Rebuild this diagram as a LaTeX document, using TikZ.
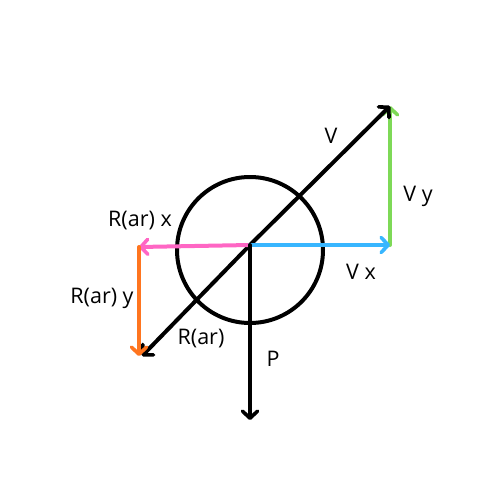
\documentclass[tikz,border=0pt]{standalone}
\usepackage{fontspec}
\setmainfont{Open Sans}
\usetikzlibrary{arrows.meta}
\definecolor{cblue}{HTML}{38B6FF}
\definecolor{cgreen}{HTML}{7ED957}
\definecolor{cpink}{HTML}{FF66C4}
\definecolor{corange}{HTML}{FF751F}
\begin{document}
\begin{tikzpicture}[x=1pt,y=-1pt,
  vec/.style={line width=4pt,line cap=round,-{Straight Barb[length=7pt,width=15pt,line width=3.6pt,round]}},
  lbl/.style={font=\fontsize{21.5}{24}\selectfont,inner sep=0pt}]
\useasboundingbox (0,0) rectangle (500,500);
\node[draw,circle,line width=4pt,minimum size=146pt,inner sep=0pt] (ball) at (250,250) {};
\coordinate (O) at (250,245);
\coordinate (Vt) at (390,106);
\coordinate (Rt) at (142,356);
\coordinate (Vx) at (390,245);
\coordinate (Rx) at (139,247);
\coordinate (Ry) at (139,356);
\coordinate (Pt) at (250,420);
\draw[vec,cgreen] (Vx) -- (Vt);
\draw[vec,black] (O) -- (Vt);
\draw[vec,black] (O) -- (Rt);
\draw[vec,cpink] (O) -- (Rx);
\draw[vec,corange] (Rx) -- (Ry);
\draw[vec,cblue] (O) -- (Vx);
\draw[vec,black] (O) -- (Pt);
\node[lbl] (lV) at (331,136) {V};
\node[lbl] (lVy) at (418,196) {V y};
\node[lbl] (lVx) at (361,272) {V x};
\node[lbl] (lRx) at (140,221) {R(ar) x};
\node[lbl] (lRy) at (102,298) {R(ar) y};
\node[lbl] (lR) at (201,339) {R(ar)};
\node[lbl] (lP) at (273,359) {P};
\end{tikzpicture}
\end{document}
